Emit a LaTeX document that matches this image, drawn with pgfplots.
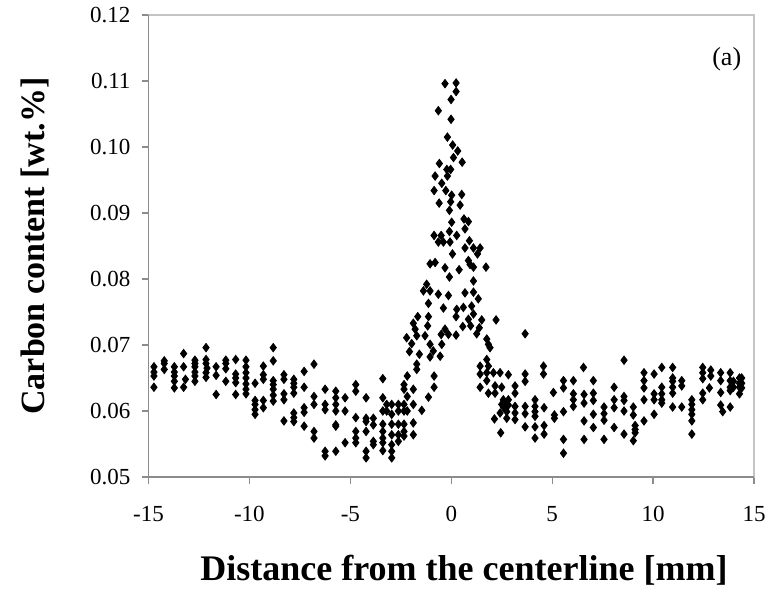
\documentclass[border=0pt]{standalone}
\usepackage{pgfplots}
\pgfplotsset{compat=1.18}
\usepackage{pgfplotstable}
\usepackage{fontspec}
\setmainfont{Liberation Serif}
\definecolor{axgray}{HTML}{8C8C8C}
\definecolor{framegray}{HTML}{C4C4C4}
\pgfplotstableread{
x y
-14.73 0.0667
-14.73 0.0659
-14.73 0.0653
-14.73 0.0636
-14.22 0.0676
-14.22 0.0672
-14.22 0.0663
-13.72 0.0667
-13.72 0.0659
-13.72 0.0653
-13.72 0.0645
-13.72 0.0635
-13.26 0.0687
-13.26 0.0667
-13.17 0.0648
-13.26 0.0636
-12.70 0.0677
-12.70 0.0672
-12.70 0.0667
-12.70 0.0659
-12.70 0.0653
-12.70 0.0645
-12.15 0.0696
-12.15 0.0678
-12.15 0.0672
-12.10 0.0665
-12.15 0.0658
-12.15 0.0651
-11.65 0.0667
-11.65 0.0654
-11.65 0.0625
-11.17 0.0677
-11.17 0.0672
-11.17 0.0664
-11.17 0.0645
-10.68 0.0678
-10.68 0.0656
-10.68 0.0650
-10.68 0.0643
-10.68 0.0625
-10.17 0.0677
-10.17 0.0667
-10.17 0.0658
-10.17 0.0650
-10.17 0.0641
-10.17 0.0633
-10.17 0.0626
-9.72 0.0642
-9.72 0.0616
-9.72 0.0610
-9.72 0.0602
-9.72 0.0595
-9.31 0.0668
-9.31 0.0655
-9.31 0.0648
-9.31 0.0616
-9.31 0.0605
-8.82 0.0696
-8.82 0.0676
-8.82 0.0646
-8.82 0.0640
-8.82 0.0633
-8.82 0.0624
-8.82 0.0615
-8.29 0.0655
-8.29 0.0648
-8.29 0.0626
-8.29 0.0617
-8.29 0.0585
-7.80 0.0648
-7.80 0.0642
-7.80 0.0636
-7.80 0.0627
-7.80 0.0597
-7.80 0.0590
-7.80 0.0584
-7.29 0.0660
-7.29 0.0636
-7.29 0.0605
-7.29 0.0598
-7.29 0.0577
-6.80 0.0671
-6.80 0.0622
-6.80 0.0610
-6.80 0.0569
-6.80 0.0559
-6.25 0.0633
-6.25 0.0610
-6.25 0.0602
-6.25 0.0539
-6.25 0.0532
-5.72 0.0630
-5.72 0.0620
-5.72 0.0610
-5.72 0.0600
-5.72 0.0579
-5.72 0.0577
-5.72 0.0539
-5.26 0.0620
-5.26 0.0600
-5.26 0.0552
-4.73 0.0640
-4.73 0.0630
-4.73 0.0590
-4.73 0.0569
-4.73 0.0559
-4.73 0.0552
-4.22 0.0620
-4.22 0.0589
-4.22 0.0584
-4.22 0.0569
-4.22 0.0539
-4.22 0.0529
-3.86 0.0589
-3.86 0.0579
-3.86 0.0554
-3.86 0.0549
-3.39 0.0649
-3.39 0.0620
-3.39 0.0600
-3.39 0.0580
-3.39 0.0569
-3.39 0.0559
-3.39 0.0552
-3.39 0.0540
-3.20 0.0610
-3.20 0.0600
-2.95 0.0610
-2.95 0.0595
-2.95 0.0580
-2.95 0.0564
-2.95 0.0549
-2.95 0.0539
-2.95 0.0529
-2.62 0.0610
-2.62 0.0600
-2.62 0.0580
-2.62 0.0564
-2.62 0.0554
-2.34 0.0640
-2.34 0.0633
-2.34 0.0610
-2.34 0.0600
-2.34 0.0580
-2.34 0.0569
-2.34 0.0562
-2.18 0.0653
-2.18 0.0622
-2.18 0.0600
-1.88 0.0633
-1.88 0.0610
-1.88 0.0582
-1.88 0.0564
-1.71 0.0671
-1.71 0.0663
-1.46 0.0601
-1.13 0.0621
-0.85 0.0653
-0.85 0.0636
-0.31 0.1096
0.24 0.1097
0.24 0.1084
-0.01 0.1072
-0.64 0.1055
-0.01 0.1042
-0.19 0.1015
0.07 0.1003
0.32 0.0994
0.11 0.0984
0.54 0.0977
-0.59 0.0975
-0.22 0.0966
-0.03 0.0966
-0.80 0.0956
-0.19 0.0956
-0.47 0.0945
-0.85 0.0934
-0.27 0.0934
0.02 0.0927
0.52 0.0928
-0.60 0.0915
-0.03 0.0917
0.44 0.0912
-0.09 0.0904
0.02 0.0886
0.63 0.0891
0.85 0.0887
0.68 0.0876
-0.85 0.0866
-0.50 0.0866
-0.09 0.0872
0.27 0.0866
-0.64 0.0856
-0.39 0.0856
-0.06 0.0856
0.90 0.0858
0.68 0.0847
1.10 0.0847
1.43 0.0847
0.06 0.0838
1.30 0.0838
0.85 0.0828
-1.05 0.0823
-0.80 0.0825
-0.31 0.0817
0.39 0.0814
0.93 0.0822
1.10 0.0818
1.72 0.0818
-0.09 0.0803
1.10 0.0797
-1.22 0.0792
-1.38 0.0782
-1.05 0.0782
-0.64 0.0777
-0.14 0.0775
0.68 0.0779
1.10 0.0780
1.34 0.0770
-1.13 0.0763
-0.39 0.0756
0.27 0.0754
0.60 0.0757
1.01 0.0759
1.10 0.0747
-1.66 0.0743
-1.13 0.0743
0.24 0.0743
0.85 0.0739
1.51 0.0738
2.22 0.0738
-1.88 0.0733
-1.79 0.0724
-1.17 0.0729
0.57 0.0728
0.96 0.0729
1.39 0.0726
-2.21 0.0711
-1.71 0.0714
-1.30 0.0714
-0.50 0.0716
-0.31 0.0724
-0.14 0.0716
0.24 0.0715
1.26 0.0717
3.66 0.0717
-1.96 0.0702
-1.05 0.0701
-0.47 0.0701
1.76 0.0709
1.84 0.0701
-2.07 0.0690
-1.58 0.0686
-1.05 0.0682
-0.55 0.0683
-0.89 0.0691
1.92 0.0696
1.76 0.0678
1.43 0.0668
1.43 0.0656
1.43 0.0636
1.84 0.0668
1.84 0.0627
1.76 0.0658
1.76 0.0646
2.09 0.0658
2.42 0.0658
2.83 0.0655
2.17 0.0638
2.17 0.0627
2.50 0.0636
3.16 0.0638
3.16 0.0627
3.16 0.0607
3.16 0.0597
3.16 0.0587
3.66 0.0656
3.66 0.0645
3.66 0.0607
3.66 0.0596
3.66 0.0576
4.57 0.0668
4.57 0.0656
2.58 0.0617
2.58 0.0606
2.83 0.0617
2.83 0.0609
2.50 0.0610
2.75 0.0611
2.75 0.0599
2.75 0.0589
2.42 0.0597
2.14 0.0588
2.45 0.0567
4.15 0.0617
4.15 0.0607
4.15 0.0599
4.15 0.0592
4.15 0.0576
4.15 0.0559
4.60 0.0605
4.60 0.0578
4.60 0.0565
5.06 0.0628
5.11 0.0594
5.11 0.0589
5.56 0.0646
5.56 0.0635
5.56 0.0599
5.56 0.0557
5.56 0.0536
6.05 0.0646
6.05 0.0626
6.05 0.0617
6.05 0.0607
6.55 0.0666
6.58 0.0625
6.58 0.0612
6.58 0.0585
6.58 0.0557
7.04 0.0646
7.04 0.0627
7.04 0.0616
7.04 0.0595
7.04 0.0575
7.57 0.0606
7.57 0.0596
7.57 0.0586
7.57 0.0557
8.07 0.0636
8.07 0.0617
8.07 0.0605
8.07 0.0575
8.56 0.0677
8.56 0.0622
8.56 0.0616
8.56 0.0600
8.56 0.0565
9.02 0.0606
9.02 0.0594
9.11 0.0578
9.11 0.0572
9.11 0.0567
9.02 0.0555
9.55 0.0658
9.55 0.0646
9.55 0.0635
9.55 0.0617
9.55 0.0585
10.05 0.0656
10.05 0.0626
10.05 0.0617
10.05 0.0595
10.43 0.0666
10.43 0.0636
10.43 0.0626
10.43 0.0617
10.43 0.0612
10.97 0.0666
10.97 0.0650
10.97 0.0645
10.97 0.0636
10.97 0.0627
10.97 0.0606
11.42 0.0646
11.42 0.0638
11.42 0.0606
11.92 0.0617
11.92 0.0610
11.92 0.0602
11.92 0.0595
11.92 0.0585
11.92 0.0565
12.46 0.0666
12.46 0.0658
12.46 0.0649
12.46 0.0627
12.46 0.0617
12.86 0.0662
12.86 0.0653
12.79 0.0635
13.35 0.0658
13.35 0.0646
13.35 0.0628
13.35 0.0609
13.45 0.0599
13.82 0.0606
13.82 0.0658
13.82 0.0646
13.82 0.0636
13.82 0.0631
13.98 0.0645
13.98 0.0636
14.28 0.0650
14.28 0.0642
14.28 0.0636
14.28 0.0626
14.39 0.0650
14.39 0.0642
14.39 0.0635
}\carbon
\begin{document}
\begin{tikzpicture}
\path[use as bounding box] (0,0) rectangle (384.5pt,294.5pt);
\begin{axis}[
  at={(74.25pt,56pt)}, anchor=south west,
  scale only axis, width=302.75pt, height=231pt,
  xmin=-15, xmax=15, ymin=0.05, ymax=0.12,
  xtick={-15,-10,-5,0,5,10,15},
  ytick={0.05,0.06,0.07,0.08,0.09,0.10,0.11,0.12},
  xtick pos=bottom, ytick pos=left,
  tick align=outside, major tick length=3.5pt,
  tick style={draw=axgray, line width=0.6pt},
  axis line style={draw=framegray, line width=0.6pt},
  /pgf/number format/assume math mode=true,
  tick label style={font=\fontsize{11.5}{13}\selectfont},
  yticklabel style={/pgf/number format/fixed, /pgf/number format/fixed zerofill, /pgf/number format/precision=2, xshift=-2pt},
  xticklabel style={yshift=-7.5pt},
  scaled y ticks=false,
  xlabel={Distance from the centerline [mm]},
  ylabel={Carbon content [wt.\%]},
  every axis x label/.style={at={(axis description cs:0.521,-0.223)}, anchor=base, font=\fontsize{18}{21}\selectfont\bfseries},
  every axis y label/.style={at={(axis description cs:-0.1874,0.5)}, anchor=center, rotate=90, font=\fontsize{17}{20}\selectfont\bfseries},
  clip=false,
  after end axis/.code={
    \draw[axgray, line width=0.6pt] (rel axis cs:0,1) -- (rel axis cs:0,0) -- (rel axis cs:1,0);
  },
]
\addplot[only marks, mark=diamond*, mark size=2.1pt, black] table[x=x, y=y] {\carbon};
\node[font=\fontsize{13}{15}\selectfont] at (axis description cs:0.955,0.9036) {(a)};
\end{axis}
\end{tikzpicture}
\end{document}
